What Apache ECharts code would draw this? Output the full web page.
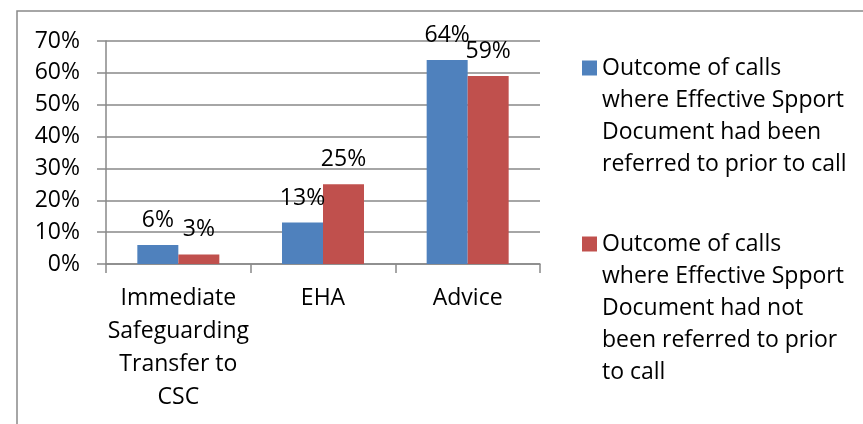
<!DOCTYPE html>
<html>
<head>
<meta charset="utf-8">
<script src="https://cdn.jsdelivr.net/npm/echarts@6/dist/echarts.min.js"></script>
<style>
html,body{margin:0;padding:0;background:#fff;}
#chart{width:863px;height:424px;}
</style>
</head>
<body>
<div id="chart"></div>
<script>
const categories = ['Immediate\nSafeguarding\nTransfer to\nCSC', 'EHA', 'Advice'];
const seriesNames = [
  'Outcome of calls where Effective Spport Document had been referred to prior to call',
  'Outcome of calls where Effective Spport Document had not been referred to prior to call'
];
const legendLines = [
  ['Outcome of calls', 'where Effective Spport', 'Document had been', 'referred to prior to call'],
  ['Outcome of calls', 'where Effective Spport', 'Document had not', 'been referred to prior', 'to call']
];
const referredValues = [6, 13, 64];
const notReferredValues = [3, 25, 59];
const yTicks = [0, 10, 20, 30, 40, 50, 60, 70];

const FONT = 'Open Sans';
const GRAY = '#898989';
const LH = 32;
const colors = ['#4F81BD', '#C0504D'];

function legendFor(i, top) {
  const n = legendLines[i].length;
  const h = n * LH;
  return {
    show: true,
    orient: 'vertical',
    left: 582,
    top: top,
    padding: 0,
    itemWidth: 15,
    itemHeight: h,
    itemGap: 0,
    selectedMode: false,
    data: [{ name: seriesNames[i], icon: 'path://M0,0M15,' + h + 'M0,8H15V23H0Z' }],
    formatter: function (name) { return legendLines[seriesNames.indexOf(name)].join('\n'); },
    textStyle: { fontFamily: FONT, fontSize: 23, lineHeight: LH, color: '#000' }
  };
}

const chart = echarts.init(document.getElementById('chart'), null, { renderer: 'canvas' });
chart.setOption({
  animation: false,
  backgroundColor: '#fff',
  textStyle: { fontFamily: FONT },
  graphic: [{
    type: 'rect',
    shape: { x: 17, y: 11, width: 1000, height: 1000 },
    style: { fill: 'none', stroke: GRAY, lineWidth: 1.5 },
    silent: true
  }],
  legend: [legendFor(0, 52.5), legendFor(1, 228.5)],
  grid: { left: 106, top: 41, width: 434, height: 223, containLabel: false },
  xAxis: {
    type: 'category',
    data: categories,
    axisLine: { lineStyle: { color: GRAY, width: 1.5 } },
    axisTick: { show: true, length: 9, alignWithLabel: false, lineStyle: { color: GRAY, width: 1.5 } },
    axisLabel: { interval: 0, margin: 18, fontFamily: FONT, fontSize: 23, lineHeight: 33, color: '#000' },
    splitLine: { show: false }
  },
  yAxis: {
    type: 'value',
    min: yTicks[0],
    max: yTicks[yTicks.length - 1],
    interval: 10,
    axisLine: { show: true, lineStyle: { color: GRAY, width: 1.5 } },
    axisTick: { show: true, length: 9, lineStyle: { color: GRAY, width: 1.5 } },
    axisLabel: { margin: 26, formatter: '{value}%', fontFamily: FONT, fontSize: 23, color: '#000' },
    splitLine: { show: true, lineStyle: { color: GRAY, width: 1.5 } }
  },
  series: [
    {
      name: seriesNames[0], type: 'bar', data: referredValues, barWidth: 41, barGap: '0%',
      itemStyle: { color: colors[0] },
      label: { show: true, position: 'top', distance: 13, formatter: '{c}%', fontFamily: FONT, fontSize: 23, color: '#000' }
    },
    {
      name: seriesNames[1], type: 'bar', data: notReferredValues, barWidth: 41, barGap: '0%',
      itemStyle: { color: colors[1] },
      label: { show: true, position: 'top', distance: 13, formatter: '{c}%', fontFamily: FONT, fontSize: 23, color: '#000' }
    }
  ]
});
</script>
</body>
</html>
